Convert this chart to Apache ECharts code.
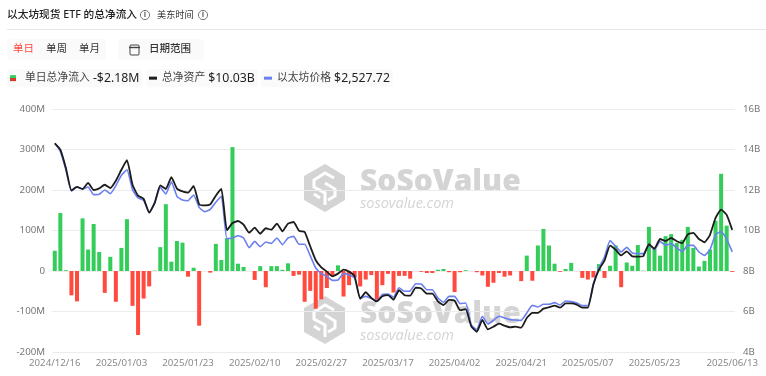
<!DOCTYPE html>
<html><head><meta charset="utf-8">
<style>html,body{margin:0;padding:0;background:#fff}#c{width:766px;height:376px}</style>
<script src="https://cdn.jsdelivr.net/npm/echarts@6/dist/echarts.min.js"></script>
</head><body><div id="c"></div>
<script>
const dates = ["2024/12/16","2024/12/17","2024/12/18","2024/12/19","2024/12/20","2024/12/23","2024/12/24","2024/12/26","2024/12/27","2024/12/30","2024/12/31",
"2025/01/02","2025/01/03","2025/01/06","2025/01/07","2025/01/08","2025/01/10","2025/01/13","2025/01/14","2025/01/15","2025/01/16","2025/01/17","2025/01/21","2025/01/22","2025/01/23","2025/01/24","2025/01/27","2025/01/28","2025/01/29","2025/01/30","2025/01/31",
"2025/02/03","2025/02/04","2025/02/05","2025/02/06","2025/02/07","2025/02/10","2025/02/11","2025/02/12","2025/02/13","2025/02/14","2025/02/18","2025/02/19","2025/02/20","2025/02/21","2025/02/24","2025/02/25","2025/02/26","2025/02/27","2025/02/28",
"2025/03/03","2025/03/04","2025/03/05","2025/03/06","2025/03/07","2025/03/10","2025/03/11","2025/03/12","2025/03/13","2025/03/14","2025/03/17","2025/03/18","2025/03/19","2025/03/20","2025/03/21","2025/03/24","2025/03/25","2025/03/26","2025/03/27","2025/03/28","2025/03/31",
"2025/04/01","2025/04/02","2025/04/03","2025/04/04","2025/04/07","2025/04/08","2025/04/09","2025/04/10","2025/04/11","2025/04/14","2025/04/15","2025/04/16","2025/04/17","2025/04/21","2025/04/22","2025/04/23","2025/04/24","2025/04/25","2025/04/28","2025/04/29","2025/04/30",
"2025/05/01","2025/05/02","2025/05/05","2025/05/06","2025/05/07","2025/05/08","2025/05/09","2025/05/12","2025/05/13","2025/05/14","2025/05/15","2025/05/16","2025/05/19","2025/05/20","2025/05/21","2025/05/22","2025/05/23","2025/05/27","2025/05/28","2025/05/29","2025/05/30",
"2025/06/02","2025/06/03","2025/06/04","2025/06/05","2025/06/06","2025/06/09","2025/06/10","2025/06/11","2025/06/12","2025/06/13"];

// 单日总净流入 (M USD)
const netFlow = [50,143,2,-60,-75,130,53,116,47,-54,35,-76,57,128,-86,-158,-68,-38,1,59,165,23,74,70,-14,8,-135,0,-4,67,27,81,306,18,10,0,-22,12,-40,12,12,3,19,-12,-9,-76,-49,-93,-70,-42,-10,14,-63,-35,-16,-38,-21,-10,-71,-35,-7,-53,-12,-12,-19,0,-2,-5,-5,3,5,-3,-52,-3,2,0,-3,-11,-39,-29,-5,-14,-11,0,-25,38,-24,63,104,63,18,-2,5,20,0,-17,-21,-16,17,-17,13,63,-40,21,13,64,1,109,55,38,86,91,69,77,109,57,11,25,53,124,240,112,-2.18];

// 总净资产 (B USD)
const totalAssets = [14.30,13.99,13.09,11.98,12.15,12.05,12.35,12.00,12.08,12.26,12.10,12.46,13.00,13.47,12.26,11.72,11.57,10.88,11.36,12.23,12.05,12.64,12.07,11.93,11.87,12.20,11.29,11.24,11.29,11.72,12.05,10.01,10.37,10.47,10.29,9.89,10.14,9.84,10.11,10.04,10.34,9.96,10.34,10.42,9.98,9.93,9.22,8.53,8.18,7.97,7.74,7.87,8.07,7.97,7.74,6.63,6.95,6.67,6.50,6.75,6.81,6.58,7.05,6.80,6.78,7.18,7.14,6.88,6.88,6.50,6.32,6.57,6.53,6.07,6.12,5.27,5.00,5.58,5.12,5.25,5.40,5.30,5.22,5.25,5.20,5.68,5.93,5.93,6.14,6.21,6.29,6.19,6.40,6.40,6.34,6.19,6.19,7.33,8.07,8.51,9.25,9.05,8.77,8.97,8.72,8.71,8.74,9.32,9.10,9.58,9.48,9.63,9.47,9.38,9.81,9.88,9.58,9.42,9.79,10.62,11.03,10.77,10.03];

// 以太坊价格 (USD)
const ethPrice = [3991,3883,3636,3349,3402,3376,3402,3299,3304,3362,3313,3420,3560,3636,3367,3254,3223,3056,3196,3398,3308,3474,3277,3227,3218,3295,3128,3070,3101,3196,3277,2706,2715,2746,2715,2585,2670,2598,2661,2643,2715,2625,2715,2737,2630,2630,2477,2310,2234,2198,2144,2149,2234,2216,2176,1901,1928,1901,1870,1955,1960,1919,2045,1996,2000,2099,2095,2018,2018,1906,1848,1928,1928,1830,1839,1546,1479,1659,1555,1605,1659,1636,1614,1609,1605,1704,1807,1785,1821,1821,1843,1812,1866,1857,1839,1803,1803,2099,2310,2459,2679,2603,2526,2589,2513,2504,2504,2621,2558,2670,2616,2639,2580,2535,2616,2616,2526,2481,2558,2760,2800,2701,2527.72];

const labelIdx = [0,12,24,36,48,60,72,84,96,108,122];
const FONT = '"Noto Sans","Noto Sans CJK SC",sans-serif';
const GREEN = '#35cd5a', RED = '#ff4a3d', BLACK = '#1c1c1c', BLUE = '#6b7ff0', WM = '#d4d4d4';

function info(cx, cy) {
  return [
    {type:'circle',silent:true,shape:{cx,cy,r:4.6},style:{fill:'none',stroke:'#777',lineWidth:1}},
    {type:'text',silent:true,x:cx,y:cy,style:{text:'i',fill:'#666',font:'bold 8px '+FONT,align:'center',verticalAlign:'middle'}}
  ];
}
function mark(dy) {
  const hex = [[325,164+dy],[345,176+dy],[345,200+dy],[325,212+dy],[304,200+dy],[304,176+dy]];
  return [
    {type:'polygon',silent:true,z:-1,shape:{points:hex},style:{fill:WM}},
    {type:'polyline',silent:true,z:-1,shape:{points:[[334,178+dy],[325,173+dy],[314,180+dy],[314,187+dy],[325,193+dy],[325,205+dy]]},style:{fill:'none',stroke:'#fff',lineWidth:3}},
    {type:'polyline',silent:true,z:-1,shape:{points:[[325,183+dy],[335,189+dy],[335,196+dy],[328,200+dy]]},style:{fill:'none',stroke:'#fff',lineWidth:3}},
    {type:'polyline',silent:true,z:-1,shape:{points:[[314,194+dy],[320,198+dy]]},style:{fill:'none',stroke:'#fff',lineWidth:3}},
    {type:'text',silent:true,z:-1,x:360,y:182+dy,style:{text:'SoSoValue',fill:WM,font:'800 30px "Open Sans",sans-serif',verticalAlign:'middle'}},
    {type:'text',silent:true,z:-1,x:360,y:204+dy,style:{text:'sosovalue.com',fill:WM,font:'italic 14.5px "Open Sans",sans-serif',verticalAlign:'middle'}}
  ];
}
const T = (text,x,y,fill,font) => ({type:'text',silent:true,x,y,style:{text,fill,font:font+' '+FONT,verticalAlign:'middle'}});
const chip = (x,y,w,h) => ({type:'rect',silent:true,z:-2,shape:{x,y,width:w,height:h,r:4},style:{fill:'#fafafa'}});

const graphic = [
  T('以太坊现货 ETF 的总净流入',7,15,'#222','500 10.7px'),
  ...info(145,15),
  T('美东时间',157,15,'#333','9.2px'),
  ...info(203,15),
  {type:'line',silent:true,shape:{x1:7,y1:29.5,x2:766,y2:29.5},style:{stroke:'#e6e6e6',lineWidth:1}},
  chip(7,39,99,21), chip(118,39,86,21),
  T('单日',13,49.5,'#ff4a3d','10.5px'), T('单周',46,49.5,'#333','10.5px'), T('单月',79,49.5,'#333','10.5px'),
  {type:'rect',silent:true,shape:{x:130,y:45,width:9,height:10,r:1},style:{fill:'none',stroke:'#444',lineWidth:1}},
  {type:'line',silent:true,shape:{x1:129,y1:47.5,x2:140,y2:47.5},style:{stroke:'#444',lineWidth:1.4}},
  T('日期范围',149,49.5,'#333','500 10.5px'),
  ...mark(0), ...mark(132)
];

const legendName = (n,v) => '{n|'+n+'} {v|'+v+'}';
const legendValues = {'单日总净流入':'-$2.18M','总净资产':'$10.03B','以太坊价格':'$2,527.72'};
const leg = (name,left,iw,ih,color,pad) => ({
  data:[{name,icon:'rect',itemStyle:{color}}], left, top:69, orient:'horizontal', selectedMode:false,
  itemWidth:iw, itemHeight:ih, backgroundColor:'#fafafa', borderRadius:4, padding:[3,3,3,3],
  formatter:n=>legendName(n,legendValues[n]),
  textStyle:{rich:{n:{fontSize:10.8,color:'#444',fontFamily:FONT,padding:[0,0,0,pad]},v:{fontSize:12.3,color:'#222',fontFamily:FONT}}}
});
const greenRed = new echarts.graphic.LinearGradient(0,0,0,1,[{offset:0,color:GREEN},{offset:.5,color:GREEN},{offset:.5,color:'#d6392e'},{offset:1,color:'#d6392e'}]);

const chart = echarts.init(document.getElementById('c'),null,{renderer:'canvas'});
chart.setOption({
  animation:false,
  textStyle:{fontFamily:FONT},
  graphic,
  legend:[leg('单日总净流入',7,6,6,greenRed,4),leg('总净资产',146,8,3,BLACK,0),leg('以太坊价格',261,8,3,BLUE,0)],
  grid:{left:52,right:31,top:109,bottom:24},
  xAxis:{type:'category',data:dates,axisTick:{show:false},axisLine:{show:false},
    axisLabel:{color:'#8a8a8a',fontSize:9.7,margin:6,showMaxLabel:true,hideOverlap:false,
      interval:(i)=>labelIdx.includes(i)}},
  yAxis:[
    {type:'value',min:-200,max:400,interval:100,position:'left',
     axisLine:{show:false},axisTick:{show:false},
     splitLine:{lineStyle:{color:'#ececec',width:1}},
     axisLabel:{color:'#777',fontSize:9.7,margin:7,formatter:v=>v===0?'0':v+'M'}},
    {type:'value',min:4,max:16,interval:2,position:'right',
     axisLine:{show:false},axisTick:{show:false},splitLine:{show:false},
     axisLabel:{color:'#777',fontSize:9.7,margin:8,formatter:v=>v+'B'}},
    {type:'value',min:1178,max:4454,show:false,splitLine:{show:false}}
  ],
  series:[
    {name:'单日总净流入',type:'bar',yAxisIndex:0,barWidth:4,data:netFlow,
     itemStyle:{color:p=>p.value>=0?GREEN:RED}},
    {name:'以太坊价格',type:'line',yAxisIndex:2,data:ethPrice,symbol:'none',smooth:.15,
     lineStyle:{color:BLUE,width:1.6},itemStyle:{color:BLUE}},
    {name:'总净资产',type:'line',yAxisIndex:1,data:totalAssets,symbol:'none',smooth:.15,
     lineStyle:{color:BLACK,width:1.8},itemStyle:{color:BLACK}}
  ]
});
</script></body></html>
